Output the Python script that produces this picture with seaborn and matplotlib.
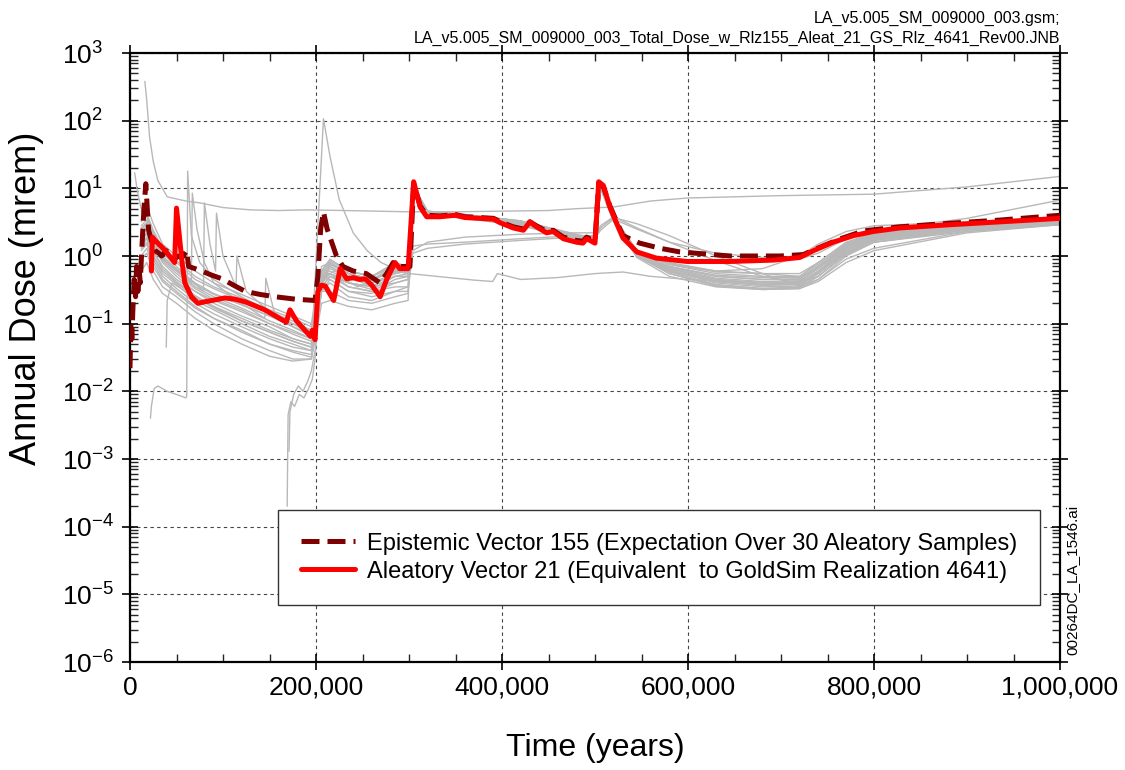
import numpy as np
import pandas as pd
import matplotlib
matplotlib.use("Agg")
import matplotlib.pyplot as plt
import matplotlib.ticker as mticker
import seaborn as sns

# ---- data: time in years, annual dose in mrem ----

# expectation over the 30 aleatory samples (epistemic vector 155)
t_exp = [0, 1e3, 2e3, 3e3, 4.5e3, 6e3, 7e3, 8.5e3, 10e3, 11e3,
         12.5e3, 15e3, 17e3, 20e3, 24e3, 27e3, 31e3, 34e3, 39e3, 44e3,
         48e3, 52e3, 56e3, 61e3, 63e3, 70e3, 77e3, 88e3, 99e3, 113e3,
         124e3, 140e3, 156e3, 178e3, 199e3, 202e3, 205e3, 208e3, 212e3, 215e3,
         222e3, 229e3, 240e3, 254e3, 269e3, 276e3, 283e3, 290e3, 301e3, 305e3,
         312e3, 319e3, 333e3, 350e3, 360e3, 376e3, 391e3, 398e3, 412e3, 423e3,
         430e3, 437e3, 448e3, 455e3, 466e3, 480e3, 487e3, 491e3, 500e3, 504e3,
         509e3, 516e3, 523e3, 530e3, 548e3, 570e3, 591e3, 645e3, 699e3, 724e3,
         742e3, 764e3, 789e3, 828e3, 882e3, 936e3, 1000e3]
y_exp = [0.022, 0.1, 0.06, 0.15, 0.45, 0.25, 0.7, 0.3, 0.6, 0.4,
         1.1, 5.0, 11.7, 2.4, 1.5, 1.2, 1.1, 1.0, 1.2, 1.0,
         0.9, 1.0, 0.95, 1.2, 0.7, 0.65, 0.6, 0.52, 0.46, 0.36,
         0.30, 0.27, 0.25, 0.23, 0.22, 0.5, 2.5, 4.5, 2.5, 1.9,
         1.0, 0.7, 0.6, 0.55, 0.4, 0.55, 0.8, 0.7, 0.7, 11.8,
         5.5, 4.0, 3.9, 4.1, 3.8, 3.7, 3.6, 3.2, 2.7, 2.5,
         3.2, 2.8, 2.3, 2.4, 1.9, 1.7, 1.65, 1.9, 1.65, 12.0,
         10.5, 5.5, 3.3, 2.0, 1.55, 1.3, 1.15, 1.0, 1.0, 1.05,
         1.35, 1.8, 2.35, 2.7, 3.05, 3.4, 4.0]

# aleatory vector 21 (GoldSim realization 4641)
t_red = [23e3, 24e3, 27e3, 38e3, 48e3, 50e3, 56e3, 59e3, 66e3, 73e3,
         80e3, 88e3, 102e3, 113e3, 124e3, 145e3, 168e3, 172e3, 179e3, 188e3,
         194e3, 196e3, 199e3, 202e3, 206e3, 210e3, 219e3, 226e3, 233e3, 240e3,
         247e3, 253e3, 260e3, 269e3, 276e3, 285e3, 290e3, 299e3, 305e3, 312e3,
         319e3, 333e3, 350e3, 360e3, 376e3, 391e3, 398e3, 412e3, 423e3, 430e3,
         437e3, 448e3, 455e3, 466e3, 480e3, 487e3, 491e3, 500e3, 504e3, 509e3,
         516e3, 523e3, 530e3, 545e3, 566e3, 599e3, 645e3, 692e3, 720e3, 735e3,
         756e3, 778e3, 799e3, 828e3, 882e3, 936e3, 1000e3]
y_red = [0.6, 1.9, 1.7, 1.2, 0.8, 5.1, 0.8, 0.4, 0.25, 0.2,
         0.21, 0.22, 0.24, 0.23, 0.21, 0.16, 0.105, 0.16, 0.11, 0.08,
         0.065, 0.08, 0.058, 0.3, 0.37, 0.36, 0.22, 0.65, 0.46, 0.48,
         0.45, 0.46, 0.37, 0.25, 0.45, 0.8, 0.65, 0.65, 12.5, 5.3,
         3.8, 3.8, 4.0, 3.7, 3.6, 3.5, 3.1, 2.6, 2.4, 3.2,
         2.7, 2.2, 2.3, 1.8, 1.6, 1.55, 1.8, 1.55, 12.5, 11,
         5.3, 3.1, 1.85, 1.15, 0.93, 0.83, 0.83, 0.87, 0.95, 1.2,
         1.6, 2.0, 2.3, 2.6, 2.9, 3.2, 3.6]

# gray aleatory samples sharing one time grid
T_BULK = [12e3, 18e3, 25e3, 35e3, 50e3, 70e3, 90e3, 120e3, 150e3, 175e3,
          195e3, 201e3, 206e3, 215e3, 235e3, 260e3, 285e3, 299e3, 304e3, 320e3,
          360e3, 420e3, 480e3, 501e3, 506e3, 520e3, 545e3, 580e3, 630e3, 680e3,
          720e3, 740e3, 770e3, 800e3, 900e3, 1000e3]
g01 = [2.5, 3.0, 1.6, 0.9, 0.6, 0.35, 0.25, 0.17, 0.11, 0.08, 0.06, 0.2, 0.5, 0.6, 0.45, 0.4, 0.55, 0.6,
       10, 4.3, 3.8, 3.0, 1.9, 1.7, 11, 3.5, 1.1, 0.7, 0.5, 0.45, 0.45, 0.7, 1.4, 2.0, 2.7, 3.4]
g02 = [1.8, 2.2, 1.2, 0.7, 0.45, 0.3, 0.2, 0.13, 0.09, 0.06, 0.05, 0.15, 0.45, 0.7, 0.5, 0.35, 0.6, 0.55,
       11, 4.5, 4.0, 3.2, 2.0, 1.8, 12, 3.7, 1.2, 0.8, 0.6, 0.55, 0.5, 0.8, 1.6, 2.2, 2.9, 3.6]
g03 = [3.2, 4.0, 2.2, 1.2, 0.8, 0.45, 0.33, 0.22, 0.15, 0.11, 0.08, 0.25, 0.6, 0.9, 0.6, 0.5, 0.7, 0.65,
       9, 4.0, 3.6, 2.8, 1.8, 1.6, 10, 3.3, 1.0, 0.6, 0.42, 0.38, 0.4, 0.6, 1.3, 1.9, 2.6, 3.3]
g04 = [1.2, 1.5, 0.8, 0.45, 0.3, 0.18, 0.12, 0.08, 0.05, 0.04, 0.035, 0.12, 0.35, 0.5, 0.35, 0.3, 0.45, 0.5,
       9.5, 4.2, 3.9, 3.1, 1.9, 1.7, 11, 3.6, 1.1, 0.65, 0.45, 0.4, 0.42, 0.65, 1.35, 1.95, 2.7, 3.4]
g05 = [0.9, 1.1, 0.6, 0.35, 0.25, 0.15, 0.1, 0.06, 0.04, 0.03, 0.03, 0.1, 0.3, 0.45, 0.3, 0.28, 0.4, 0.45,
       10, 4.4, 4.0, 3.3, 2.0, 1.75, 11.5, 3.6, 1.1, 0.62, 0.4, 0.35, 0.36, 0.55, 1.2, 1.8, 2.6, 3.2]
g06 = [4.5, 5.5, 3.0, 1.5, 1.0, 0.6, 0.4, 0.27, 0.18, 0.13, 0.1, 0.3, 0.7, 0.8, 0.55, 0.45, 0.65, 0.6,
       11, 4.6, 4.1, 3.3, 2.1, 1.8, 12, 3.8, 1.2, 0.75, 0.55, 0.5, 0.5, 0.75, 1.5, 2.1, 2.8, 3.5]
g07 = [2.0, 2.6, 1.4, 0.8, 0.5, 0.3, 0.22, 0.15, 0.1, 0.07, 0.055, 0.18, 0.5, 0.65, 0.5, 0.4, 0.5, 0.55,
       10.5, 4.2, 3.7, 2.9, 1.85, 1.65, 10.5, 3.4, 1.0, 0.58, 0.38, 0.33, 0.35, 0.5, 1.1, 1.7, 2.5, 3.1]
g08 = [2.8, 3.4, 1.8, 1.0, 0.65, 0.4, 0.28, 0.19, 0.13, 0.09, 0.07, 0.22, 0.55, 0.75, 0.55, 0.45, 0.6, 0.6,
       10, 4.4, 3.9, 3.1, 1.95, 1.7, 11, 3.6, 1.2, 0.75, 0.6, 0.65, 1.0, 1.5, 2.3, 2.8, 3.2, 3.7]
g09 = [1.5, 1.9, 1.0, 0.6, 0.4, 0.25, 0.17, 0.11, 0.075, 0.055, 0.045, 0.14, 0.4, 0.55, 0.4, 0.35, 0.4, 0.45,
       1.4, 1.5, 1.6, 1.8, 2.0, 2.0, 2.6, 3.7, 3.0, 2.0, 1.0, 0.55, 0.36, 0.45, 1.0, 1.6, 2.4, 3.0]
g10 = [2.2, 2.8, 1.5, 0.85, 0.55, 0.33, 0.23, 0.16, 0.1, 0.075, 0.06, 0.18, 0.45, 0.55, 0.35, 0.3, 0.35, 0.35,
       1.1, 1.3, 1.5, 1.7, 1.9, 1.9, 2.4, 3.5, 2.5, 1.6, 0.85, 0.5, 0.4, 0.5, 1.1, 1.7, 2.5, 3.1]
g11 = [3.5, 4.2, 2.4, 1.3, 0.85, 0.5, 0.35, 0.24, 0.16, 0.12, 0.09, 0.25, 0.5, 0.45, 0.3, 0.25, 0.3, 0.3,
       1.2, 1.6, 1.9, 2.1, 2.2, 2.2, 2.8, 3.8, 2.6, 1.6, 1.1, 0.95, 0.9, 1.1, 1.8, 2.4, 3.6, 6.7]
g12 = [0.6, 0.8, 0.45, 0.28, 0.2, 0.12, 0.08, 0.05, 0.033, 0.028, 0.03, 0.09, 0.3, 0.4, 0.25, 0.22, 0.3, 0.35,
       9, 4.1, 3.8, 3.0, 1.8, 1.6, 10, 3.2, 0.95, 0.5, 0.35, 0.32, 0.33, 0.45, 0.9, 1.3, 2.3, 3.0]
g13 = [1.4, 1.8, 1.0, 0.55, 0.38, 0.22, 0.16, 0.1, 0.065, 0.05, 0.04, 0.14, 0.4, 0.55, 0.4, 0.32, 0.5, 0.5,
       10, 4.3, 3.9, 3.1, 1.9, 1.7, 11, 3.5, 1.05, 0.6, 0.42, 0.37, 0.38, 0.55, 1.15, 1.75, 2.6, 3.3]
g14 = [2.6, 3.1, 1.7, 0.95, 0.62, 0.38, 0.27, 0.19, 0.13, 0.1, 0.08, 0.2, 0.55, 0.75, 0.6, 0.5, 0.75, 0.65,
       11, 4.5, 4.1, 3.2, 2.0, 1.75, 11.5, 3.7, 1.15, 0.7, 0.52, 0.48, 0.48, 0.7, 1.45, 2.05, 2.8, 3.5]
g15 = [1.0, 1.3, 0.7, 0.42, 0.28, 0.17, 0.12, 0.075, 0.05, 0.038, 0.032, 0.08, 0.2, 0.22, 0.18, 0.16, 0.2, 0.22,
       8, 4.0, 3.7, 2.9, 1.8, 1.6, 10.5, 3.4, 1.0, 0.55, 0.37, 0.33, 0.34, 0.5, 1.05, 1.6, 2.5, 3.2]
g16 = [1.7, 2.1, 1.15, 0.65, 0.42, 0.26, 0.18, 0.12, 0.08, 0.06, 0.05, 0.12, 0.3, 0.3, 0.22, 0.2, 0.25, 0.28,
       9.5, 4.2, 3.8, 3.0, 1.9, 1.65, 10.5, 3.4, 1.0, 0.55, 0.36, 0.32, 0.33, 0.42, 0.8, 1.2, 2.2, 2.9]

# gray samples with their own times (spikes, late starts)
s1_t = [16e3, 18e3, 21e3, 25e3, 30e3, 40e3, 60e3, 75e3, 100e3, 130e3, 160e3, 190e3, 230e3, 300e3,
        350e3, 400e3, 450e3, 480e3, 520e3, 560e3, 600e3, 700e3, 800e3, 900e3, 1000e3]
s1_y = [380, 200, 58, 25, 13, 7.5, 6.5, 6.1, 5.2, 4.8, 4.7, 4.8, 4.7, 4.5,
        4.5, 4.6, 4.7, 5.0, 5.3, 6.5, 7.2, 7.8, 8.2, 10.5, 15]
s2_t = [12e3, 18e3, 25e3, 35e3, 50e3, 70e3, 90e3, 120e3, 150e3, 175e3, 195e3, 203e3, 208e3, 215e3,
        225e3, 240e3, 255e3, 270e3, 290e3, 300e3, 330e3, 370e3, 390e3, 395e3, 420e3, 460e3, 500e3,
        530e3, 560e3, 600e3, 650e3, 700e3, 730e3, 760e3, 800e3, 900e3, 1000e3]
s2_y = [1.3, 1.6, 0.9, 0.5, 0.33, 0.2, 0.14, 0.09, 0.06, 0.045, 0.04, 5, 107, 30,
        6.8, 2.2, 1.2, 0.8, 0.6, 0.55, 0.5, 0.44, 0.42, 0.55, 0.45, 0.48, 0.55,
        0.58, 0.5, 0.45, 0.42, 0.4, 0.45, 0.9, 1.6, 2.3, 2.9]
s3_t = [22e3, 23e3, 26e3, 30e3, 40e3, 50e3, 60e3, 61e3, 62e3, 66e3, 75e3, 90e3, 120e3, 150e3,
        175e3, 195e3, 201e3, 206e3, 215e3, 235e3, 260e3, 285e3, 299e3, 304e3, 320e3, 360e3, 420e3,
        480e3, 501e3, 506e3, 520e3, 545e3, 580e3, 630e3, 680e3, 720e3, 740e3, 770e3, 800e3, 900e3, 1000e3]
s3_y = [0.004, 0.006, 0.011, 0.012, 0.01, 0.009, 0.008, 0.0085, 18, 2.0, 0.8, 0.45, 0.25, 0.15,
        0.1, 0.075, 0.2, 0.5, 0.7, 0.5, 0.45, 0.6, 0.6, 10, 4.3, 3.9, 3.1,
        1.95, 1.7, 11, 3.6, 1.1, 0.7, 0.5, 0.45, 0.46, 0.7, 1.4, 2.0, 2.7, 3.4]
s4_t = [39e3, 40e3, 45e3, 55e3, 70e3, 90e3, 120e3, 150e3, 175e3, 195e3, 201e3, 206e3, 215e3, 235e3,
        260e3, 285e3, 299e3, 304e3, 320e3, 360e3, 420e3, 480e3, 501e3, 506e3, 520e3, 545e3, 580e3,
        630e3, 680e3, 720e3, 740e3, 770e3, 800e3, 900e3, 1000e3]
s4_y = [0.045, 0.22, 0.4, 0.33, 0.24, 0.18, 0.11, 0.075, 0.055, 0.045, 0.13, 0.35, 0.5, 0.4,
        0.35, 0.5, 0.5, 9, 4.2, 3.8, 3.0, 1.9, 1.65, 10.5, 3.4, 1.05, 0.62,
        0.43, 0.38, 0.4, 0.58, 1.25, 1.85, 2.65, 3.3]
s5_t = [169e3, 170e3, 173e3, 177e3, 182e3, 187e3, 192e3, 196e3, 199e3, 201e3, 204e3, 210e3, 220e3,
        240e3, 260e3, 285e3, 299e3, 304e3, 320e3, 360e3, 420e3, 480e3, 501e3, 506e3, 520e3, 545e3,
        580e3, 630e3, 680e3, 720e3, 740e3, 770e3, 800e3, 900e3, 1000e3]
s5_y = [0.0002, 0.0045, 0.007, 0.006, 0.009, 0.008, 0.011, 0.015, 0.03, 0.08, 0.3, 0.5, 0.6,
        0.45, 0.4, 0.55, 0.6, 9.5, 4.2, 3.8, 3.0, 1.9, 1.7, 11, 3.5, 1.05,
        0.6, 0.42, 0.37, 0.38, 0.55, 1.15, 1.75, 2.6, 3.3]
s6_t = [171e3, 172e3, 176e3, 181e3, 186e3, 191e3, 195e3, 199e3, 202e3, 205e3, 212e3, 225e3, 245e3,
        270e3, 290e3, 299e3, 304e3, 320e3, 360e3, 420e3, 480e3, 501e3, 506e3, 520e3, 545e3, 580e3,
        630e3, 680e3, 720e3, 740e3, 770e3, 800e3, 900e3, 1000e3]
s6_y = [0.0013, 0.005, 0.009, 0.012, 0.01, 0.014, 0.02, 0.04, 0.2, 0.4, 0.55, 0.5, 0.35,
        0.5, 0.6, 0.55, 10, 4.4, 4.0, 3.1, 1.95, 1.7, 11.5, 3.6, 1.1, 0.65,
        0.45, 0.4, 0.4, 0.6, 1.3, 1.9, 2.7, 3.4]
s7_t = [12e3, 18e3, 25e3, 35e3, 50e3, 66e3, 67e3, 72e3, 80e3, 90e3, 120e3, 145e3, 146e3, 155e3,
        175e3, 195e3, 201e3, 206e3, 215e3, 235e3, 260e3, 285e3, 299e3, 304e3, 320e3, 360e3, 420e3,
        480e3, 501e3, 506e3, 520e3, 545e3, 580e3, 630e3, 680e3, 720e3, 740e3, 770e3, 800e3, 900e3, 1000e3]
s7_y = [2.0, 2.5, 1.5, 0.9, 0.6, 0.4, 8.5, 2.5, 0.8, 0.4, 0.2, 0.12, 0.47, 0.15,
        0.09, 0.065, 0.2, 0.55, 0.8, 0.55, 0.45, 0.7, 0.6, 10.5, 4.4, 3.9, 3.1,
        1.95, 1.7, 11, 3.6, 1.1, 0.68, 0.47, 0.42, 0.43, 0.66, 1.35, 1.95, 2.7, 3.4]
s8_t = [5e3, 8e3, 12e3, 18e3, 25e3, 35e3, 50e3, 65e3, 79e3, 80e3, 86e3, 92e3, 93e3, 100e3,
        114e3, 115e3, 125e3, 150e3, 175e3, 195e3, 201e3, 206e3, 215e3, 235e3, 260e3, 285e3, 299e3,
        304e3, 320e3, 360e3, 420e3, 480e3, 501e3, 506e3, 520e3, 545e3, 580e3, 630e3, 680e3, 720e3,
        740e3, 770e3, 800e3, 900e3, 1000e3]
s8_y = [17, 9, 5, 3.8, 2.0, 1.1, 0.7, 0.45, 0.3, 6.1, 1.5, 0.6, 4.3, 1.0,
        0.35, 1.0, 0.3, 0.15, 0.1, 0.07, 0.22, 0.6, 0.85, 0.6, 0.5, 0.8, 0.7,
        11.5, 4.6, 4.1, 3.3, 2.05, 1.8, 12, 3.8, 1.2, 0.78, 0.58, 0.55, 0.55,
        0.8, 1.55, 2.15, 2.85, 3.55]

title_lines = ["LA_v5.005_SM_009000_003.gsm;",
               "LA_v5.005_SM_009000_003_Total_Dose_w_Rlz155_Aleat_21_GS_Rlz_4641_Rev00.JNB"]
label_exp = "Epistemic Vector 155 (Expectation Over 30 Aleatory Samples)"
label_red = "Aleatory Vector 21 (Equivalent  to GoldSim Realization 4641)"
file_tag = "00264DC_LA_1546.ai"

# ---- long table of the gray samples ----
gray_runs = [(T_BULK, g) for g in [g01, g02, g03, g04, g05, g06, g07, g08,
                                   g09, g10, g11, g12, g13, g14, g15, g16]]
gray_runs += [(s1_t, s1_y), (s2_t, s2_y), (s3_t, s3_y), (s4_t, s4_y),
              (s5_t, s5_y), (s6_t, s6_y), (s7_t, s7_y), (s8_t, s8_y)]
gray_df = pd.concat([pd.DataFrame({"time": t, "dose": y, "run": i})
                     for i, (t, y) in enumerate(gray_runs)], ignore_index=True)

# ---- style ----
sns.set_style("ticks")
plt.rcParams["font.family"] = ["Liberation Sans", "DejaVu Sans"]
plt.rcParams["mathtext.fontset"] = "custom"
plt.rcParams["mathtext.rm"] = "Liberation Sans"
plt.rcParams["text.color"] = "black"
plt.rcParams["axes.labelcolor"] = "black"

fig = plt.figure(figsize=(11.25, 7.7), dpi=100)
ax = fig.add_axes([130 / 1125, 108 / 770, 930 / 1125, 609 / 770])
ax.set_yscale("log")

sns.lineplot(data=gray_df, x="time", y="dose", units="run", estimator=None, sort=False,
             color="#b8b8b8", lw=1.0, legend=False, ax=ax, zorder=2)
sns.lineplot(x=t_exp, y=y_exp, sort=False, color="#7f0000", lw=3.6,
             linestyle=(0, (3.6, 1.6)), label=label_exp, ax=ax, zorder=3)
sns.lineplot(x=t_red, y=y_red, sort=False, color="#ff0000", lw=3.6,
             label=label_red, ax=ax, zorder=4)

ax.set_xlim(0, 1e6)
ax.set_ylim(1e-6, 1e3)
ax.xaxis.set_major_locator(mticker.MultipleLocator(200000))
ax.xaxis.set_minor_locator(mticker.MultipleLocator(50000))
ax.xaxis.set_major_formatter(mticker.FuncFormatter(lambda v, p: f"{v:,.0f}"))
ax.yaxis.set_major_locator(mticker.LogLocator(base=10, numticks=20))
ax.yaxis.set_minor_locator(mticker.LogLocator(base=10, subs=np.arange(2, 10), numticks=20))
ax.yaxis.set_minor_formatter(mticker.NullFormatter())
ax.yaxis.set_major_formatter(mticker.FuncFormatter(
    lambda v, p: r"$\mathregular{10^{%d}}$" % round(np.log10(v))))

ax.grid(True, which="major", color="#444444", lw=0.8, linestyle=(0, (3, 3)))
for sp in ax.spines.values():
    sp.set_linewidth(1.6)
    sp.set_color("black")
ax.tick_params(which="major", direction="inout", length=12, width=1.2,
               top=True, right=True, labelsize=19, colors="black")
ax.tick_params(which="minor", direction="in", length=6, width=1.0, top=True, right=True)
ax.tick_params(axis="x", which="major", pad=4)
ax.tick_params(axis="y", which="major", pad=43)
for lab in ax.get_yticklabels():
    lab.set_horizontalalignment("left")

ax.set_xlabel("Time (years)", fontsize=23)
ax.xaxis.set_label_coords(0.5, -0.141)
ax.xaxis.label.set_va("center")
ax.set_ylabel("Annual Dose (mrem)", fontsize=26)
ax.yaxis.set_label_coords(-0.111, 0.598)
ax.yaxis.label.set_va("center")

h, l = ax.get_legend_handles_labels()
leg = ax.legend(h, l, loc="lower right", bbox_to_anchor=(0.978, 0.0936), fontsize=17,
                frameon=True, fancybox=False, framealpha=1, edgecolor="#333333",
                borderaxespad=0, handlelength=2.3, handletextpad=0.5,
                labelspacing=0.25, borderpad=0.95)
leg.get_frame().set_linewidth(1.0)

fig.text(1060 / 1125, 1 - 18 / 770, title_lines[0], ha="right", va="center", fontsize=11.5)
fig.text(1060 / 1125, 1 - 38 / 770, title_lines[1], ha="right", va="center", fontsize=11.5)
fig.text(1072 / 1125, 1 - 580 / 770, file_tag, rotation=90, ha="center", va="center", fontsize=11)

fig.savefig("out.png", dpi=100, facecolor="white")
